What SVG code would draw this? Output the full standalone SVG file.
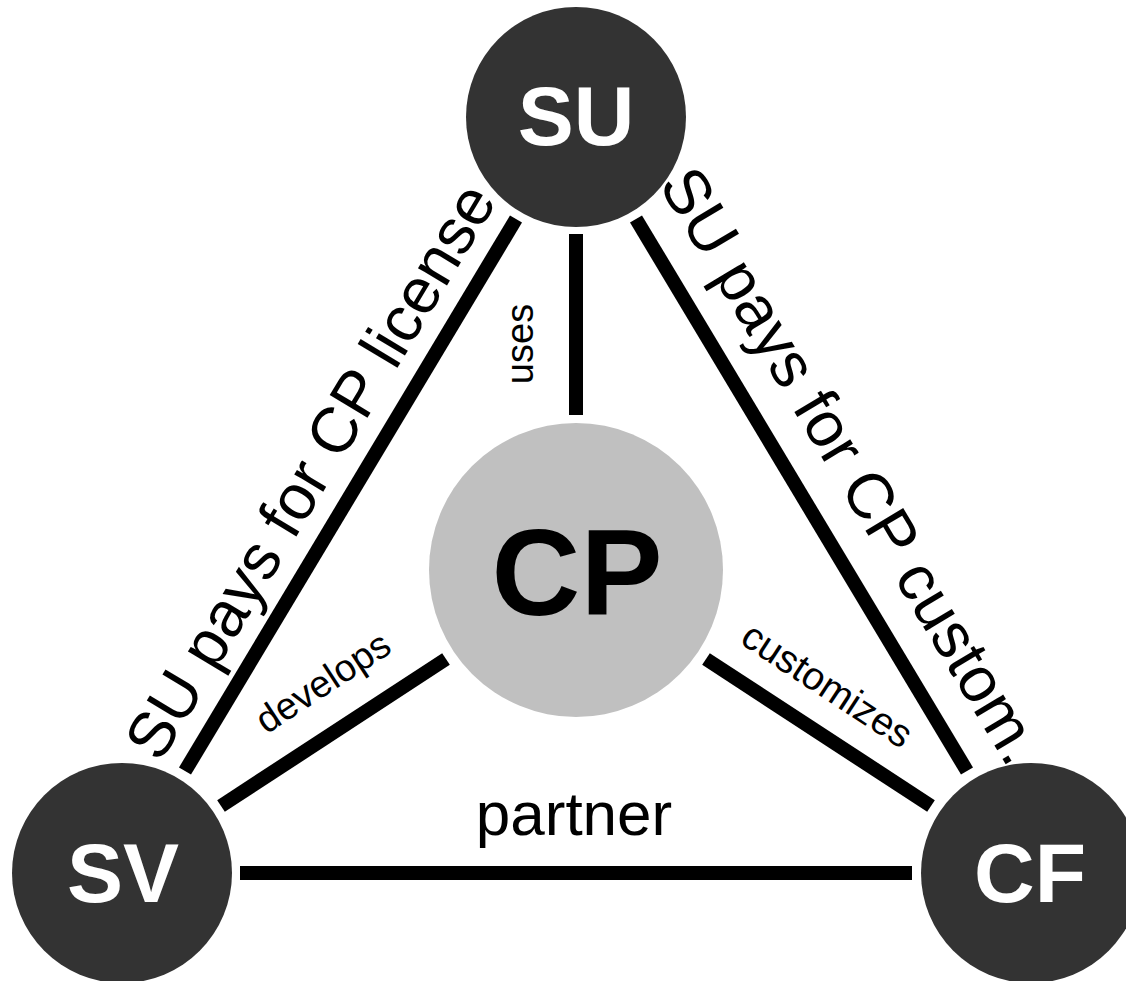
<svg xmlns="http://www.w3.org/2000/svg" width="1126" height="981" viewBox="0 0 1126 981">
  <style>
    .edge { stroke: #000; stroke-width: 14; stroke-linecap: butt; fill: none; }
    .node { fill: #333333; }
    .core { fill: #c0c0c0; }
    .name { font-family: "Liberation Sans", Arial, sans-serif; font-weight: bold; font-size: 84px; fill: #fff; text-anchor: middle; }
    .big { font-family: "Liberation Sans", Arial, sans-serif; font-size: 62px; fill: #000; }
    .diag { font-family: "Liberation Sans", Arial, sans-serif; font-size: 64px; fill: #000; }
    .small { font-family: "Liberation Sans", Arial, sans-serif; font-size: 38px; fill: #000; text-anchor: middle; }
  </style>
  <rect width="1126" height="981" fill="#fff"/>

  <!-- connectors and their labels -->
  <g id="connectors">
    <line class="edge" x1="576" y1="234" x2="576" y2="415"/>
    <line class="edge" x1="516" y1="219" x2="185" y2="771"/>
    <line class="edge" x1="636" y1="219" x2="967" y2="771"/>
    <line class="edge" x1="446" y1="659" x2="221" y2="806"/>
    <line class="edge" x1="706" y1="659" x2="931" y2="806"/>
    <line class="edge" x1="240" y1="873" x2="912" y2="873"/>

    <text class="small" transform="translate(533,344) rotate(-90)">uses</text>
    <text class="small" transform="translate(330,693) rotate(-33.2)">develops</text>
    <text class="small" style="font-size:39px" transform="translate(820,696) rotate(33.2)">customizes</text>
    <text class="big" text-anchor="middle" x="574" y="835">partner</text>
    <text class="diag" transform="translate(160,764) rotate(-59.05)">SU pays for CP license</text>
    <text class="diag" transform="translate(658,184.5) rotate(59.05)">SU pays for CP custom...</text>
  </g>

  <g id="node-cp">
    <circle class="core" cx="576" cy="570" r="147"/>
    <text x="577" y="615" text-anchor="middle" font-family="Liberation Sans, Arial, sans-serif" font-weight="bold" font-size="123" fill="#000">CP</text>
  </g>

  <g id="node-su">
    <circle class="node" cx="576" cy="117" r="110"/>
    <text class="name" x="576" y="145">SU</text>
  </g>

  <g id="node-sv">
    <circle class="node" cx="122" cy="873" r="110"/>
    <text class="name" x="123" y="902">SV</text>
  </g>

  <g id="node-cf">
    <circle class="node" cx="1031" cy="873" r="110"/>
    <text class="name" x="1030" y="902">CF</text>
  </g>
</svg>
